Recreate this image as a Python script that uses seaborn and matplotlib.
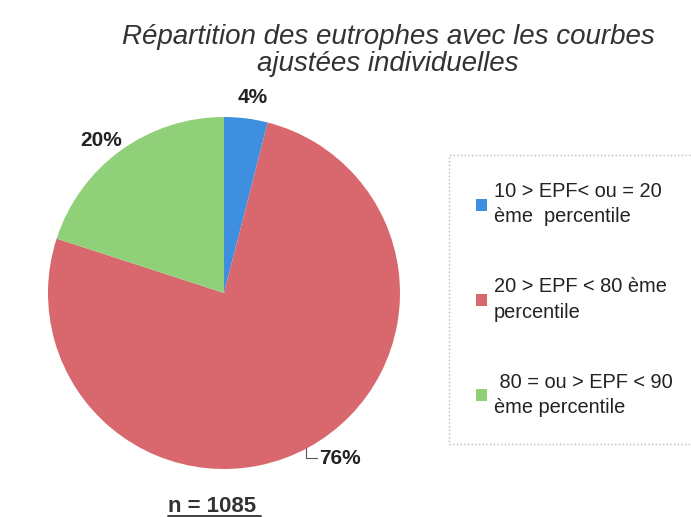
import matplotlib
matplotlib.use("Agg")
import matplotlib.pyplot as plt
import seaborn as sns
import numpy as np
from matplotlib.lines import Line2D

sns.set_theme(style="white")
plt.rcParams["font.family"] = ["Liberation Sans", "DejaVu Sans"]

# data
categories = [
    "10 > EPF< ou = 20\nème  percentile",
    "20 > EPF < 80 ème\npercentile",
    " 80 = ou > EPF < 90\nème percentile",
]
shares = [4, 76, 20]
pct_labels = ["4%", "76%", "20%"]
colors = ["#3f8fe0", "#d8686d", "#8fd078"]
title = "Répartition des eutrophes avec les courbes\najustées individuelles"
n_text = "n = 1085"

fig = plt.figure(figsize=(6.91, 5.17), dpi=100)
fig.patch.set_facecolor("white")

ax = fig.add_axes([48 / 691, 48 / 517, 352 / 691, 352 / 517])
wedges, texts = ax.pie(
    shares,
    colors=colors,
    startangle=90,
    counterclock=False,
    labels=pct_labels,
    labeldistance=1.12,
    wedgeprops=dict(linewidth=0),
    textprops=dict(fontsize=15, fontweight="bold", color="#222222"),
)
ax.set_aspect("equal")
ax.set_xlim(-1, 1)
ax.set_ylim(-1, 1)

for t in texts:
    t.set_ha("center")
    t.set_va("center")
texts[0].set_x(texts[0].get_position()[0] + 0.02)
gx, gy = texts[2].get_position()
texts[2].set_position((gx - 0.04, gy - 0.04))

# leader line for 76%: from the wedge edge down, then right to the label
w = wedges[1]
mid = np.deg2rad((w.theta1 + w.theta2) / 2)
ex, ey = 0.97 * np.cos(mid), 0.97 * np.sin(mid)
ax.plot([ex, ex, ex + 0.06], [ey - 0.03, ey - 0.09, ey - 0.09],
        color="#555555", lw=0.8, clip_on=False)
texts[1].set_position((ex + 0.075, ey - 0.09))
texts[1].set_ha("left")

fig.text(388 / 691, 1 - 24 / 517, title, fontsize=20, style="italic",
         color="#333333", ha="center", va="top", linespacing=1.05)

leg = fig.legend(
    wedges, categories,
    loc="upper left",
    bbox_to_anchor=(449 / 691, 1 - 155 / 517, 0.4, 0.0),
    mode="expand",
    fontsize=14.4,
    frameon=True,
    handlelength=0.55,
    handleheight=0.55,
    handletextpad=0.35,
    labelspacing=2.55,
    borderpad=1.35,
    borderaxespad=0.0,
    fancybox=False,
)
frame = leg.get_frame()
frame.set_edgecolor("#aaaaaa")
frame.set_linestyle(":")
frame.set_linewidth(1.0)
for txt in leg.get_texts():
    txt.set_color("#222222")
    txt.set_linespacing(1.42)

fig.text(168 / 691, 1 - 512 / 517, n_text, fontsize=16, fontweight="bold",
         color="#333333", ha="left", va="baseline")
fig.lines.append(Line2D([168 / 691, 261 / 691], [1 - 515.5 / 517, 1 - 515.5 / 517],
                        transform=fig.transFigure, color="#333333", lw=1.3))

fig.savefig("out.png", dpi=100, facecolor="white")
